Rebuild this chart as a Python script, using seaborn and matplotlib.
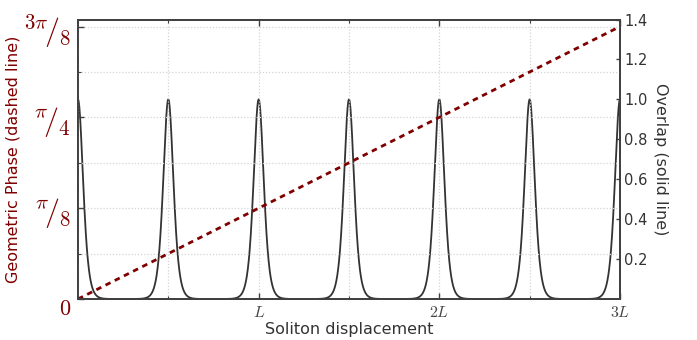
import numpy as np
import pandas as pd
import matplotlib
matplotlib.use("Agg")
import matplotlib.pyplot as plt
import seaborn as sns
from matplotlib.ticker import MultipleLocator, FixedLocator

# ---- data ----
# geometric phase (dashed): linear from 0 to 3pi/8 over three periods
phase_x = [0.0, 3.0]
phase_y = [0.0, 3 * np.pi / 8]

# overlap (solid): peaks every half period, height 1, sech^2 profile
peak_centers = [0.0, 0.5, 1.0, 1.5, 2.0, 2.5, 3.0]
peak_heights = [1.0, 1.0, 1.0, 1.0, 1.0, 1.0, 1.0]
peak_width = 0.0375

x_ticks = [1, 2, 3]
x_ticklabels = [r'$L$', r'$2L$', r'$3L$']
phase_ticks = [0, np.pi / 8, np.pi / 4, 3 * np.pi / 8]
phase_ticklabels = [r'$0$', r'${}^{\pi}\!/_{8}$', r'${}^{\pi}\!/_{4}$', r'${}^{3\pi}\!/_{8}$']
overlap_ticks = [0.2, 0.4, 0.6, 0.8, 1.0, 1.2, 1.4]

# ---- build tables ----
xs = np.linspace(0, 3, 3001)
ov = np.zeros_like(xs)
for c, h in zip(peak_centers, peak_heights):
    ov += h / np.cosh((xs - c) / peak_width) ** 2
df_ov = pd.DataFrame({"x": xs, "overlap": ov})
df_ph = pd.DataFrame({"x": phase_x, "phase": phase_y})

sns.set_theme(style="white")
plt.rcParams['font.family'] = ['DejaVu Sans']
plt.rcParams['mathtext.fontset'] = 'cm'

red = '#800000'
grey = '#333333'
spine = '#404040'

fig = plt.figure(figsize=(6.97, 3.40), dpi=100)
ax = fig.add_axes([78 / 697, 1 - 299 / 340, (620 - 78) / 697, (299 - 19.5) / 340])
ax2 = ax.twinx()

sns.lineplot(data=df_ov, x="x", y="overlap", ax=ax2, color=grey, lw=1.3)
sns.lineplot(data=df_ph, x="x", y="phase", ax=ax, color=red, lw=2.0,
             linestyle=(0, (2, 1.7)))

ax.set_zorder(ax2.get_zorder() + 1)
ax.patch.set_visible(False)

ax.set_xlim(0, 3)
ax.set_ylim(0, 1.2085)
ax2.set_ylim(0, 1.4)

ax.xaxis.set_major_locator(FixedLocator(x_ticks))
ax.set_xticklabels(x_ticklabels)
ax.xaxis.set_minor_locator(MultipleLocator(0.5))
ax.yaxis.set_major_locator(FixedLocator(phase_ticks))
ax.set_yticklabels(phase_ticklabels)
ax.yaxis.set_minor_locator(MultipleLocator(np.pi / 16))
ax2.yaxis.set_major_locator(FixedLocator(overlap_ticks))
ax2.set_yticklabels([f"{t:.1f}" for t in overlap_ticks])

ax.grid(True, which='both', color='#d4d4d4', linestyle=(0, (1, 1.5)), lw=0.9)
ax2.grid(False)

ax.tick_params(axis='x', which='both', direction='in', top=True, bottom=True,
               labelsize=11.5, labelcolor='#444444', color=spine, pad=4)
ax.tick_params(axis='x', which='major', length=4, width=1.0)
ax.tick_params(axis='x', which='minor', length=2, width=0.8)
ax.tick_params(axis='y', which='both', direction='in', left=True, right=False,
               labelsize=21.5, labelcolor=red, color=spine, pad=5)
ax.tick_params(axis='y', which='major', length=4, width=1.0)
ax.tick_params(axis='y', which='minor', length=2, width=0.8)
ax2.tick_params(axis='y', direction='in', right=True, length=3, width=1.0,
                labelsize=10.5, labelcolor=grey, color=spine, pad=3)

# the zero label is smaller and hangs below its tick
zero_lab = ax.get_yticklabels()[0]
zero_lab.set_fontsize(16)
zero_lab.set_va('top')

for a in (ax, ax2):
    for s in a.spines.values():
        s.set_color(spine)
        s.set_linewidth(1.3)
        s.set_visible(True)

ax.set_xlabel("Soliton displacement", fontsize=11.5, color=grey, labelpad=2)
ax.set_ylabel("Geometric Phase (dashed line)", fontsize=11.5, color=red)
ax.yaxis.set_label_coords(-0.107, 0.5)
ax2.set_ylabel("Overlap (solid line)", fontsize=11.5, color=grey, rotation=270,
               va='center')
ax2.yaxis.set_label_coords(1.074, 0.5)

fig.savefig("out.png", dpi=100)
